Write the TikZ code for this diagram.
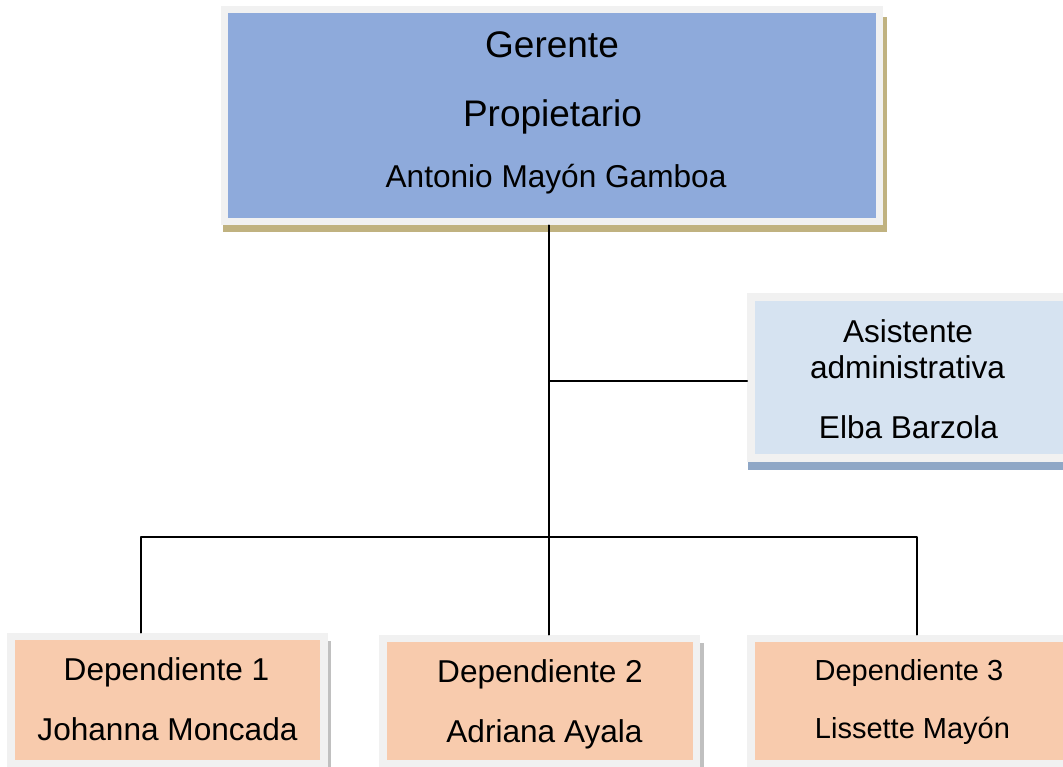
\documentclass[tikz,border=0pt]{standalone}
\usepackage{fontspec}
\setmainfont{Liberation Sans}
\usetikzlibrary{shadows}
\definecolor{boxgray}{RGB}{241,241,241}
\definecolor{jefeblue}{RGB}{142,170,219}
\definecolor{tanshadow}{RGB}{192,178,128}
\definecolor{asistblue}{RGB}{214,227,241}
\definecolor{asistshadow}{RGB}{143,167,198}
\definecolor{peach}{RGB}{248,203,173}
\definecolor{grayshadow}{RGB}{192,192,192}
\begin{document}
\begin{tikzpicture}[x=1pt,y=-1pt,line join=round,line cap=round]
	\tikzset{box/.style={rectangle,draw=boxgray,line width=7.5pt,line join=miter,inner sep=0pt},
		big/.style={anchor=base,font=\fontsize{37}{44}\selectfont},
		txt/.style={anchor=base,font=\fontsize{31.6}{38}\selectfont},
		small/.style={anchor=base,font=\fontsize{29}{35}\selectfont},
		conn/.style={line width=1.5pt,black},
		depshadow/.style={general shadow={fill=grayshadow,shadow xshift=7pt,shadow yshift=-4pt}}}
	\useasboundingbox (0,0) rectangle (1063,767);
	% boxes
	\node[box,fill=jefeblue,minimum width=655pt,minimum height=212pt,
		general shadow={fill=tanshadow,shadow scale=1.0137,shadow xshift=3pt,shadow yshift=-9pt}] (gerente) at (552,115.5) {};
	\node[box,fill=asistblue,minimum width=319pt,minimum height=161pt,
		general shadow={fill=asistshadow,shadow scale=1.02,shadow yshift=-10pt}] (asist) at (910.5,377.5) {};
	\node[box,fill=peach,minimum width=313pt,minimum height=127.5pt,depshadow] (dep1) at (167.5,700.25) {};
	\node[box,fill=peach,minimum width=313.5pt,minimum height=125.5pt,depshadow] (dep2) at (539.75,701.25) {};
	\node[box,fill=peach,minimum width=319pt,minimum height=125.5pt] (dep3) at (910.5,701.25) {};
	% texts
	\node[big] (gerT1) at (552,58) {Gerente};
	\node[big] (gerT2) at (552.5,127) {Propietario};
	\node[txt] (gerT3) at (556,188) {Antonio Mayón Gamboa};
	\node[txt] (asT1) at (908,342) {Asistente};
	\node[txt] (asT2) at (907.5,378) {administrativa};
	\node[txt] (asT3) at (908.5,438) {Elba Barzola};
	\node[txt] (d1T1) at (166.5,680) {Dependiente 1};
	\node[txt] (d1T2) at (167.5,740) {Johanna Moncada};
	\node[txt] (d2T1) at (540,682) {Dependiente 2};
	\node[txt] (d2T2) at (544.5,742) {Adriana Ayala};
	\node[small] (d3T1) at (909,680) {Dependiente 3};
	\node[small] (d3T2) at (912.5,738) {Lissette Mayón};
	% connectors
	\coordinate (trunk) at (549,537);
	\coordinate (asJ) at (549,381);
	\coordinate (barL) at (141,537);
	\coordinate (barR) at (917,537);
	\draw[conn] (gerente.south -| trunk) -- (dep2.north -| trunk);
	\draw[conn] (asJ) -- (asist.west |- asJ);
	\draw[conn] (dep1.north -| barL) -- (barL) -- (barR) -- (dep3.north -| barR);
\end{tikzpicture}
\end{document}
